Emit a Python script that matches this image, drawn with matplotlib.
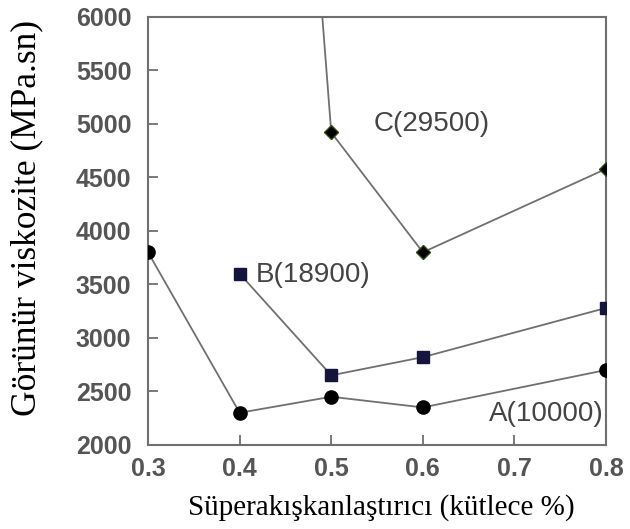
import matplotlib.pyplot as plt

# Süperakışkanlaştırıcı (kütlece %)
x_a = [0.3, 0.4, 0.5, 0.6, 0.8]
y_a = [3800, 2300, 2450, 2350, 2700]

x_b = [0.4, 0.5, 0.6, 0.8]
y_b = [3600, 2650, 2820, 3280]

# ilk nokta grafik sınırının dışında kalıyor
x_c = [0.4, 0.5, 0.6, 0.8]
y_c = [16000, 4920, 3800, 4580]

x_ticks = [0.3, 0.4, 0.5, 0.6, 0.7, 0.8]
y_ticks = [2000, 2500, 3000, 3500, 4000, 4500, 5000, 5500, 6000]

line_renk = '#707070'
yazi_renk = '#555555'

fig = plt.figure(figsize=(6.3, 5.29), dpi=100)
ax = fig.add_axes([0.235, 0.159, 0.727, 0.809])

ax.plot(x_a, y_a, color=line_renk, lw=1.3, marker='o', ms=9.5,
        mfc='black', mec='black', zorder=3)
ax.plot(x_b, y_b, color=line_renk, lw=1.3, marker='s', ms=8.5,
        mfc='#14143c', mec='#14143c', zorder=3)
ax.plot(x_c, y_c, color=line_renk, lw=1.3, marker='D', ms=7.5,
        mfc='black', mec='#2a4a10', zorder=3)

ax.text(0.61, 5000, 'C(29500)', fontsize=20, color='#444444',
        ha='center', va='center', family='Liberation Sans')
ax.text(0.48, 3590, 'B(18900)', fontsize=20, color='#444444',
        ha='center', va='center', family='Liberation Sans')
ax.text(0.797, 2290, 'A(10000)', fontsize=20, color='#444444',
        ha='right', va='center', family='Liberation Sans')

ax.set_xlim(0.3, 0.8)
ax.set_ylim(2000, 6000)
ax.set_xticks(x_ticks)
ax.set_yticks(y_ticks)
ax.set_xticklabels([str(t) for t in x_ticks])
ax.tick_params(direction='in', length=7, width=1.3, color=line_renk,
               labelsize=18, labelcolor=yazi_renk,
               top=False, right=False)
ax.tick_params(axis='x', pad=9)
ax.tick_params(axis='y', pad=12)
for lab in ax.get_xticklabels() + ax.get_yticklabels():
    lab.set_family('Liberation Sans')
    lab.set_fontweight('bold')

for sp in ax.spines.values():
    sp.set_color(line_renk)
    sp.set_linewidth(1.5)

ax.set_xlabel('Süperakışkanlaştırıcı (kütlece %)', family='Liberation Serif',
              fontsize=21)
ax.set_ylabel('Görünür viskozite (MPa.sn)', family='Liberation Serif',
              fontsize=25.5)
ax.xaxis.set_label_coords(0.51, -0.115)
ax.yaxis.set_label_coords(-0.228, 0.53)

fig.savefig('out.png', dpi=100)
